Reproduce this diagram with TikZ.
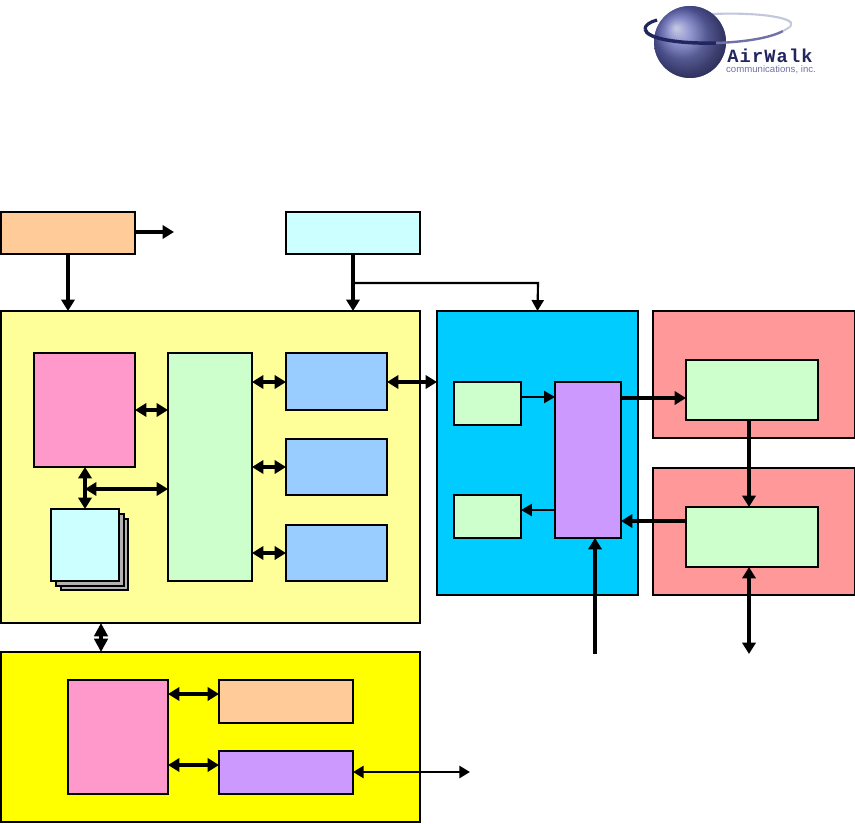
\documentclass[tikz,border=0pt]{standalone}
\usepackage{fontspec}
\setmainfont{Liberation Sans}
\newfontfamily\logomono[LetterSpace=6]{Liberation Mono}
\usetikzlibrary{arrows.meta,calc}
\definecolor{corange}{HTML}{FFCC99}
\definecolor{ccyan}{HTML}{CCFFFF}
\definecolor{cpale}{HTML}{FFFF99}
\definecolor{cblue}{HTML}{00CCFF}
\definecolor{cred}{HTML}{FF9999}
\definecolor{cpink}{HTML}{FF99CC}
\definecolor{cgreen}{HTML}{CCFFCC}
\definecolor{csky}{HTML}{99CCFF}
\definecolor{cviolet}{HTML}{CC99FF}
\definecolor{cyell}{HTML}{FFFF00}
\definecolor{cgrey}{HTML}{B2B2B2}
\definecolor{globe}{HTML}{6A70C0}
\definecolor{globedark}{HTML}{3A3F8C}
\definecolor{ringc}{HTML}{23265E}
\definecolor{ringm}{HTML}{6F72A8}
\definecolor{ringl}{HTML}{C4C6DC}
\newcommand{\bx}[6]{\node[boxs,fill=#6,minimum width={(#4-#2)*0.75pt},minimum height={(#5-#3)*0.75pt}] (#1) at ({(#2+#4)/2},{(#3+#5)/2}) {};}
\tikzset{
  boxs/.style={draw=black,line width=1pt,rectangle,inner sep=0pt,outer sep=0pt},
  thick arrow/.style={line width=3.1pt,-{Triangle[length=8.6pt,width=10pt]}},
  thick both/.style={line width=3.1pt,{Triangle[length=8.6pt,width=10pt]}-{Triangle[length=8.6pt,width=10pt]}},
  stub both/.style={line width=3pt,{Triangle[length=10pt,width=10pt]}-{Triangle[length=10pt,width=10pt]}},
  mid both/.style={line width=2.2pt,{Triangle[length=8pt,width=9pt]}-{Triangle[length=8pt,width=9pt]}},
  thin arrow/.style={line width=1.6pt,-{Triangle[length=8.2pt,width=9pt]}},
}
\begin{document}
\begin{tikzpicture}[x=0.75pt,y=-0.75pt]
\useasboundingbox (0,0) rectangle (855,823);
% logo
\draw[ringl,line width=1.6pt] (712,14) .. controls (760,12) and (795,18) .. (791,25);
\shade[inner color=globe!55!white,outer color=globedark,shading=radial] (690,42) circle (36);
\shade[ball color=globe,opacity=0.75] (690,42) circle (36);
\draw[ringc,line width=2.6pt] (645,29) .. controls (646,39) and (680,44) .. (716,43);
\draw[ringm,line width=1.8pt] (716,43) .. controls (745,42) and (770,38) .. (783,31);
\draw[ringl,line width=1.4pt] (783,31) .. controls (788,28) and (791,27) .. (791,25);
\draw[ringc,line width=2.4pt] (645,29) .. controls (645,25) and (650,22) .. (657,20);
\node[inner sep=0pt,text=ringc,font=\logomono\bfseries\fontsize{14}{14}\selectfont] (logoa) at (770,55.5) {AirWalk};
\node[inner sep=0pt,text=ringm,font=\fontsize{7.2}{8}\selectfont] (logob) at (771,70) {communications, inc.};
% large panels
\bx{orangetop}{1}{212}{135}{254}{corange}
\bx{cyantop}{286}{212}{420}{254}{ccyan}
\bx{pale}{1}{311}{420}{623}{cpale}
\bx{bluep}{437}{311}{638}{595}{cblue}
\bx{redone}{653}{311}{855}{438}{cred}
\bx{redtwo}{653}{468}{855}{595}{cred}
\bx{yellowp}{1}{652}{420}{822}{cyell}
% inner boxes
\bx{pinka}{34}{353}{135}{467}{cpink}
\bx{bus}{168}{353}{252}{581}{cgreen}
\bx{skya}{286}{353}{387}{410}{csky}
\bx{skyb}{286}{439}{387}{495}{csky}
\bx{skyc}{286}{525}{387}{581}{csky}
\bx{cardc}{61}{519}{128}{590}{cgrey}
\bx{cardb}{56}{514}{124}{586}{cgrey}
\bx{carda}{51}{509}{119}{581}{ccyan}
\bx{gsa}{454}{382}{521}{425}{cgreen}
\bx{gsb}{454}{495}{521}{538}{cgreen}
\bx{viol}{555}{382}{621}{538}{cviolet}
\bx{gla}{686}{360}{818}{420}{cgreen}
\bx{glb}{686}{507}{818}{567}{cgreen}
\bx{pinkb}{68}{680}{168}{794}{cpink}
\bx{orangeb}{219}{680}{353}{723}{corange}
\bx{violb}{219}{751}{353}{794}{cviolet}
% free ends
\coordinate (outa) at (174,232);
\coordinate (junc) at (353,283);
\coordinate (inviol) at (595,654);
\coordinate (outglb) at (749,654);
\coordinate (outviolb) at (470,772);
\coordinate (busjoin) at (85,489);
% connectors
\draw[thick arrow] (orangetop.east |- 0,232) -- (outa);
\draw[thick arrow] (68,254) -- (68,311);
\draw[thick arrow] (cyantop.south) -- (cyantop.south |- pale.north);
\draw[thin arrow] (junc) -- (538,283) -- (bluep.north);
\draw[thick both] (pinka.east |- 0,410) -- (bus.west |- 0,410);
\draw[thick both] (85,467) -- (85,509);
\draw[thick both] (busjoin) -- (bus.west |- busjoin);
\draw[thick both] (bus.east |- 0,382) -- (skya.west |- 0,382);
\draw[thick both] (bus.east |- 0,467) -- (skyb.west |- 0,467);
\draw[thick both] (bus.east |- 0,553) -- (skyc.west |- 0,553);
\draw[thick both] (skya.east |- 0,382) -- (bluep.west |- 0,382);
\draw[thin arrow] (gsa.east |- 0,397) -- (viol.west |- 0,397);
\draw[thin arrow] (viol.west |- 0,510) -- (gsb.east |- 0,510);
\draw[thick arrow] (viol.east |- 0,398) -- (gla.west |- 0,398);
\draw[thick arrow] (749,420) -- (749,507);
\draw[thick arrow] (glb.west |- 0,521) -- (viol.east |- 0,521);
\draw[thick arrow] (inviol) -- (viol.south -| inviol);
\draw[thick both] (glb.south -| outglb) -- (outglb);
\draw[stub both] (101,623) -- (101,652);
\draw[thick both] (pinkb.east |- 0,694) -- (orangeb.west |- 0,694);
\draw[thick both] (pinkb.east |- 0,765) -- (violb.west |- 0,765);
\draw[mid both] (violb.east |- outviolb) -- (outviolb);
\end{tikzpicture}
\end{document}
